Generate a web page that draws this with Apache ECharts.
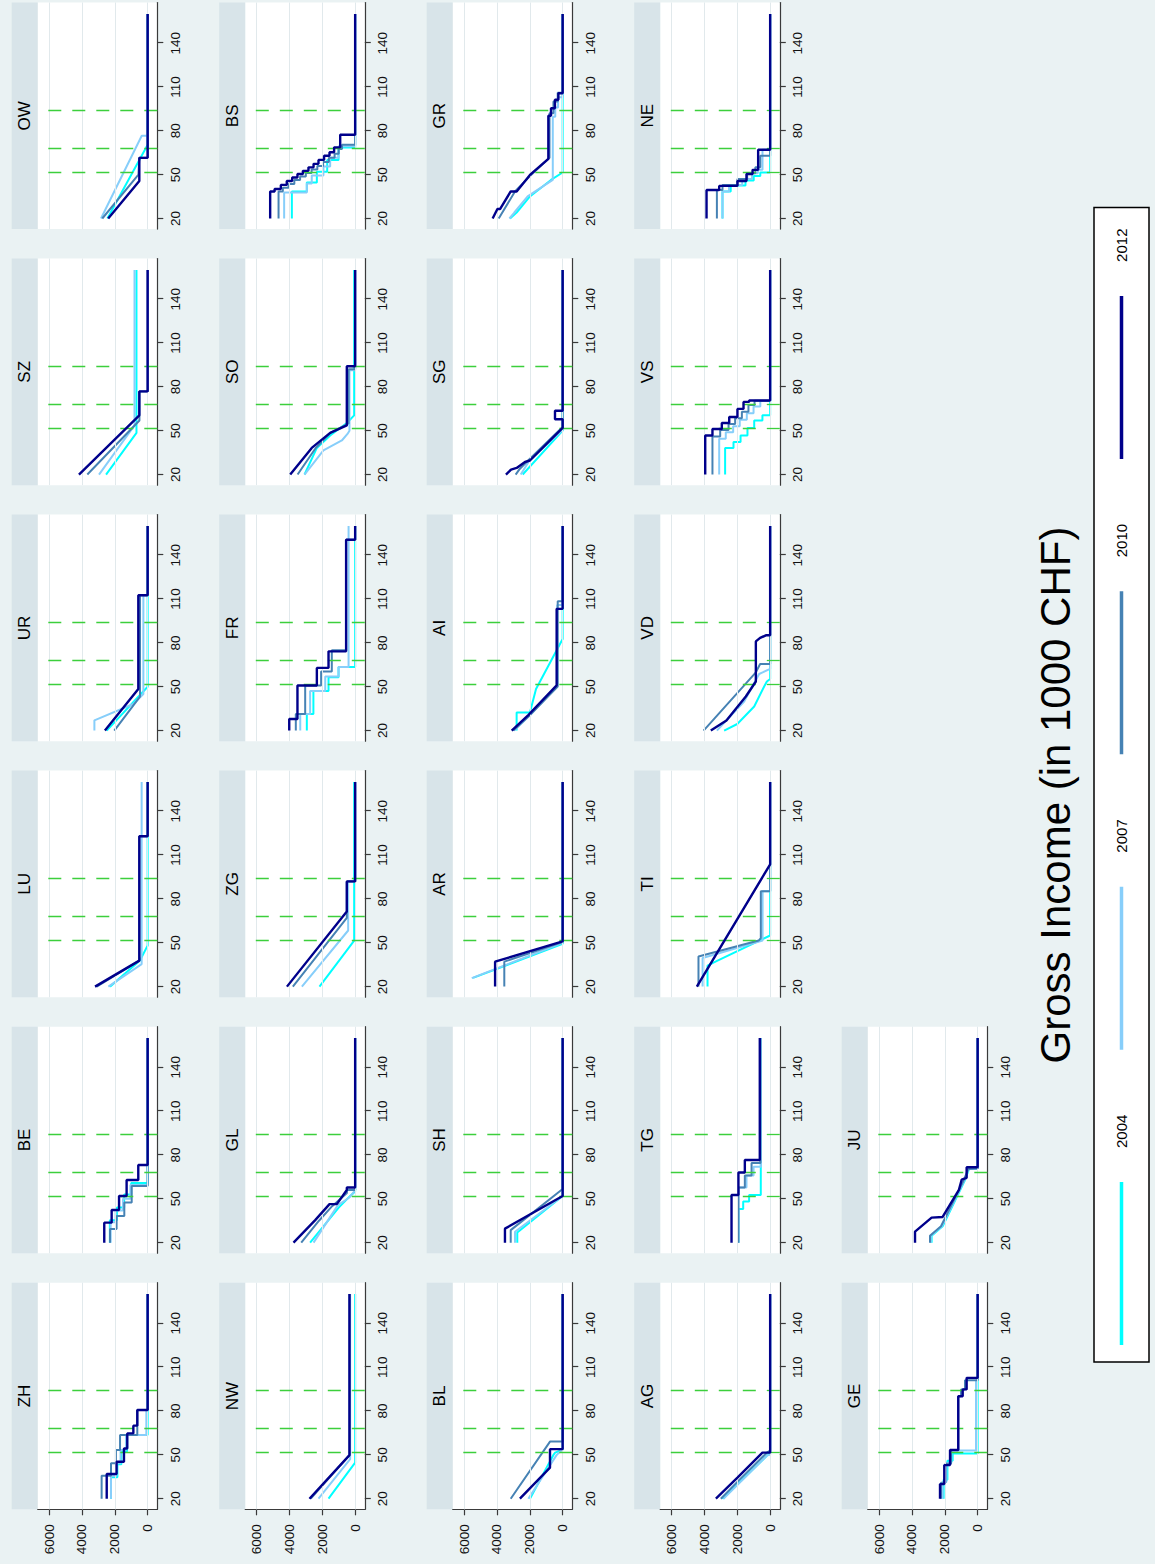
<!DOCTYPE html>
<html>
<head>
<meta charset="utf-8">
<script src="https://cdn.jsdelivr.net/npm/echarts@6/dist/echarts.min.js"></script>
<style>
  html, body { margin: 0; padding: 0; width: 1155px; height: 1564px; overflow: hidden; background: #eaf2f3; }
  /* the graph is laid out landscape and turned a quarter left, like the source */
  #chart { position: absolute; left: 0; top: 0; width: 1564px; height: 1155px;
           transform-origin: 0 0; transform: translateY(1564px) rotate(-90deg); }
</style>
</head>
<body>
<div id="chart"></div>
<script>
const years = ['2004', '2007', '2010', '2012'];
const cantons = ['ZH', 'BE', 'LU', 'UR', 'SZ', 'OW', 'NW', 'GL', 'ZG', 'FR', 'SO', 'BS',
  'BL', 'SH', 'AR', 'AI', 'SG', 'GR', 'AG', 'TG', 'TI', 'VD', 'VS', 'NE', 'GE', 'JU'];
// panels whose four lines are pure staircases (value holds until next income point)
const stepped = ['ZH', 'BE', 'FR', 'BS', 'NE', 'VS', 'TG', 'GE'];
const incomeTicks = [20, 50, 80, 110, 140];
const valueTicks = [0, 2000, 4000, 6000];
const refIncome = [51.5, 67.7, 93.7];

// [income, value] per year: 2004, 2007, 2010, 2012
const ZH = [
  [[20, 2230], [34.6, 1840], [43.5, 1600], [52.5, 1250], [63.6, 0], [160, 0]],
  [[20, 2230], [35.5, 1900], [44.2, 1650], [53.3, 1320], [63.6, 80], [80.7, 0], [160, 0]],
  [[20, 2800], [35.7, 2230], [44.2, 1930], [53.3, 1680], [63.6, 630], [80.7, 0], [160, 0]],
  [[20, 2490], [36.9, 1890], [45.3, 1440], [54.4, 1240], [64.7, 870], [70, 630], [80.7, 0], [160, 0]]
];
const BE = [
  [[20, 2300], [35.4, 1870], [44, 1430], [53, 1000], [60.8, 0], [160, 0]],
  [[20, 2250], [34, 1950], [42, 1500], [50, 1050], [59.5, 0], [160, 0]],
  [[20, 2290], [29.3, 1890], [38.2, 1420], [47.4, 970], [58.7, 0], [160, 0]],
  [[20, 2640], [33.7, 2190], [42.3, 1740], [51.9, 1280], [62.9, 570], [73.1, 0], [160, 0]]
];
const LU = [
  [[20, 2290], [37.8, 470], [48.1, 0], [160, 0]],
  [[20, 2390], [35.4, 365], [160, 365]],
  [[20, 3100], [37.8, 507], [122.9, 507], [122.9, 0], [160, 0]],
  [[20, 3200], [37.8, 507], [122.9, 507], [122.9, 0], [160, 0]]
];
const UR = [
  [[20, 2490], [50, 0], [160, 0]],
  [[20, 3240], [27, 3240], [38.2, 870], [45, 260], [112.6, 260], [112.6, 0], [160, 0]],
  [[20, 2030], [43.3, 466], [112.6, 466], [112.6, 0], [160, 0]],
  [[20, 2600], [48.5, 568], [112.6, 568], [112.6, 0], [160, 0]]
];
const SZ = [
  [[20, 2530], [48.5, 680], [160, 680]],
  [[20, 2960], [53.6, 800], [160, 800]],
  [[20, 3670], [57, 500], [76.9, 500], [76.9, 0], [160, 0]],
  [[20, 4180], [60.5, 507], [76.9, 507], [76.9, 0], [160, 0]]
];
const OW = [
  [[20, 2450], [70.4, 0], [160, 0]],
  [[20, 2840], [76.6, 360], [76.6, 0], [160, 0]],
  [[20, 2760], [50, 560], [61.5, 507], [61.5, 0], [160, 0]],
  [[20, 2400], [45.7, 507], [61.5, 507], [61.5, 0], [160, 0]]
];
const NW = [
  [[20, 1620], [44.7, 0], [160, 0]],
  [[20, 2230], [47, 304], [160, 304]],
  [[20, 2700], [49.8, 345], [160, 345]],
  [[20, 2780], [49.8, 345], [160, 345]]
];
const GL = [
  [[20, 2740], [35.4, 1620], [44, 1000], [52, 300], [55, 0], [160, 0]],
  [[20, 2530], [45.7, 1050], [50.9, 345], [56, 0], [160, 0]],
  [[20, 3280], [35, 2200], [45, 1400], [54, 500], [56, 500], [56, 0], [160, 0]],
  [[20, 3750], [35.4, 2430], [46.4, 1560], [46.4, 1115], [56, 507], [57.7, 507], [57.7, 0], [160, 0]]
];
const ZG = [
  [[20, 2170], [51.5, 60], [160, 60]],
  [[20, 3240], [58.4, 425], [92, 425], [92, 0], [160, 0]],
  [[20, 3790], [67, 507], [92, 507], [92, 0], [160, 0]],
  [[20, 4150], [71.4, 507], [92, 507], [92, 0], [160, 0]]
];
const FR = [
  [[20, 2940], [31.3, 2540], [47, 1620], [56.5, 1010], [63.5, 0], [160, 0]],
  [[20, 3340], [31.3, 2740], [47, 1820], [57, 1010], [63.5, 400], [160, 400]],
  [[20, 3610], [31.3, 3040], [50.9, 2070], [60.5, 1420], [74.9, 550], [150.6, 0], [160, 0]],
  [[20, 4010], [27.9, 3510], [50.9, 2330], [62.9, 1620], [74.2, 550], [150.6, 0], [160, 0]]
];
const SO = [
  [[20, 3080], [38.2, 2330], [46.7, 1520], [55.3, 507], [60.5, 60], [160, 60]],
  [[20, 3080], [36.5, 1930], [43.3, 810], [47.8, 466], [50, 345], [91.3, 345], [91.3, 0], [160, 0]],
  [[20, 3500], [38.2, 2400], [48.5, 1500], [55, 400], [92, 400], [92, 0], [160, 0]],
  [[20, 3950], [38.2, 2640], [48.5, 1520], [53.6, 507], [94.1, 507], [94.1, 0], [160, 0]]
];
const BS = [
  [[20, 3850], [38.5, 2940], [44.7, 2330], [52, 1700], [60, 1010], [68.5, 0], [160, 0]],
  [[20, 4320], [37.8, 2940], [44, 2640], [49.5, 1930], [55.5, 1520], [61.5, 1010], [69.4, 0], [160, 0]],
  [[20, 4660], [38.5, 4400], [41, 4050], [43.6, 3700], [46.4, 3350], [48.8, 3000], [51.2, 2650],
   [53.6, 2300], [56, 1950], [58.7, 1600], [61.5, 1250], [64.3, 1000], [67.5, 800], [70.5, 0], [160, 0]],
  [[20, 5170], [38.5, 4900], [40.2, 4520], [43, 4160], [45.7, 3830], [48.1, 3510], [50.5, 3180],
   [52.6, 2840], [55, 2530], [57.4, 2230], [60.1, 1890], [62.9, 1560], [65.3, 1280], [68.7, 910], [77.3, 0], [160, 0]]
];
const BL = [
  [[20, 1990], [49.8, 570], [51.5, 460], [53.5, 0], [160, 0]],
  [[20, 2090], [49.8, 370], [53.9, 0], [160, 0]],
  [[20, 3160], [59.1, 770], [59.1, 0], [160, 0]],
  [[20, 2600], [41.3, 770], [53.9, 770], [53.9, 0], [160, 0]]
];
const SH = [
  [[20, 2760], [27, 2760], [51.9, 0], [160, 0]],
  [[20, 2900], [27.5, 2900], [51.9, 0], [160, 0]],
  [[20, 3160], [28.6, 3160], [56.7, 0], [160, 0]],
  [[20, 3510], [29.6, 3510], [51.9, 0], [160, 0]]
];
const AR = [
  [[26, 5450], [49.3, 0], [160, 0]],
  [[25.8, 5530], [50, 0], [160, 0]],
  [[20, 3550], [37.1, 3550], [50.5, 0], [160, 0]],
  [[20, 4110], [37.1, 4110], [50.9, 0], [160, 0]]
];
const AI = [
  [[20, 2800], [32.3, 2800], [32.3, 1990], [48.4, 1620], [82.7, 0], [160, 0]],
  [[20, 2950], [31, 1950], [50.5, 330], [106, 330], [106, 0], [160, 0]],
  [[20, 3000], [30, 2050], [50.2, 300], [108.5, 300], [108.5, 0], [160, 0]],
  [[20, 3100], [30.6, 2090], [50.9, 365], [103.3, 365], [103.3, 0], [160, 0]]
];
const SG = [
  [[20, 2430], [50, 0], [160, 0]],
  [[20, 2550], [30, 2000], [50.5, 0], [160, 0]],
  [[20, 2860], [24, 2600], [29.6, 2100], [52.5, 0], [160, 0]],
  [[20, 3450], [23.4, 3140], [24.5, 2800], [28.6, 2290], [29.6, 1990], [51.9, 0], [57.8, 0],
   [57.8, 466], [63.6, 466], [63.6, 0], [160, 0]]
];
const GR = [
  [[20, 3200], [24.1, 2800], [35.1, 1990], [46.4, 710], [51.5, 0], [160, 0]],
  [[20, 3240], [24.1, 2940], [35.1, 2130], [46.4, 600], [89.6, 600], [89.6, 450], [96, 450],
   [96, 280], [103, 280], [103, 0], [160, 0]],
  [[20, 3890], [38.5, 2900], [49, 1990], [61.5, 800], [92, 800], [92, 560], [100, 560],
   [100, 300], [106, 300], [106, 0], [160, 0]],
  [[20, 4260], [26.5, 3970], [26.5, 3810], [38.5, 3160], [38.5, 2800], [49.8, 1990], [60.8, 870],
   [90.3, 870], [90.3, 710], [95.4, 710], [95.4, 470], [101.3, 470], [101.3, 260], [105.7, 260],
   [105.7, 0], [160, 0]]
];
const AG = [
  [[20, 2900], [49.8, 160], [51.5, 0], [160, 0]],
  [[20, 2840], [49.8, 160], [50, 0], [160, 0]],
  [[20, 3000], [32.7, 1890], [51.5, 200], [53, 0], [160, 0]],
  [[20, 3300], [34.4, 1990], [51.5, 470], [51.5, 0], [160, 0]]
];
const TG = [
  [[20, 1930], [43, 1640], [48.1, 1280], [52.6, 570], [160, 570]],
  [[20, 1930], [57.7, 1440], [66, 1010], [72, 560], [160, 560]],
  [[20, 1930], [57.7, 1540], [66, 1130], [74.5, 590], [160, 590]],
  [[20, 2350], [52.6, 1930], [68, 1540], [76.6, 630], [160, 630]]
];
const TI = [
  [[20, 3810], [34.4, 3810], [37.8, 3200], [55, 0], [160, 0]],
  [[20, 4110], [39.6, 4110], [51.5, 460], [85.2, 460], [85.2, 0], [160, 0]],
  [[20, 4360], [40.6, 4360], [51.5, 700], [53.2, 568], [85.2, 568], [85.2, 0], [160, 0]],
  [[20, 4460], [103.7, 0], [160, 0]]
];
const VD = [
  [[20, 2800], [24.5, 2000], [36.5, 970], [50.2, 365], [53.6, 200], [55.3, 0], [160, 0]],
  [[20, 3240], [39.9, 1580], [58.7, 670], [62.2, 0], [160, 0]],
  [[20, 4050], [59.8, 870], [65.6, 610], [65.6, 0], [160, 0]],
  [[20, 3610], [26.9, 2660], [43.3, 1480], [53.6, 870], [81, 870], [83.4, 610], [85.2, 260], [85.2, 0], [160, 0]]
];
const VS = [
  [[20, 2740], [38.2, 2230], [42.3, 1800], [46.7, 1380], [51.9, 970], [57, 470], [60.5, 0], [160, 0]],
  [[20, 3100], [44.5, 2700], [49, 2250], [53, 1850], [57.5, 1420], [62, 1010], [66.5, 600], [70.3, 0], [160, 0]],
  [[20, 3510], [46, 3040], [50.5, 2530], [54.5, 2130], [58.5, 1720], [63, 1320], [67.5, 950], [70.5, 0], [160, 0]],
  [[20, 3950], [46.7, 3510], [51.2, 2940], [55.3, 2490], [59.4, 1990], [64.9, 1620], [69.7, 1280], [70.7, 0], [160, 0]]
];
const NE = [
  [[20, 2900], [38.5, 2400], [42.5, 1500], [46, 1000], [49, 600], [51.5, 0], [160, 0]],
  [[20, 2900], [38.5, 2500], [43, 1700], [47, 1100], [51, 750], [53.3, 466], [67, 0], [160, 0]],
  [[20, 3240], [39.5, 2900], [43, 1990], [47, 1400], [51, 900], [55, 600], [63, 0], [160, 0]],
  [[20, 3870], [39.5, 3100], [42.3, 1990], [45.7, 1440], [50.5, 1070], [53.3, 730], [67, 0], [160, 0]]
];
const GE = [
  [[20, 2070], [33, 1840], [46, 1520], [51, 0], [160, 0]],
  [[20, 2130], [31.5, 1900], [44.5, 1600], [53, 100], [101, 0], [160, 0]],
  [[20, 2230], [31, 1960], [44, 1620], [53.3, 1180], [90.1, 1010], [94.8, 770], [101, 0], [160, 0]],
  [[20, 2290], [30, 2030], [43, 1680], [53.3, 1180], [90.1, 910], [94.8, 670], [102.7, 0], [160, 0]]
];
const JU = [
  [[20, 2800], [24.8, 2800], [31.2, 2130], [62.1, 800], [70.4, 520], [70.8, 0], [160, 0]],
  [[20, 2850], [24.8, 2850], [31.2, 2180], [62.1, 830], [70.4, 540], [70.8, 0], [160, 0]],
  [[20, 2900], [24.8, 2900], [31.2, 2230], [62.1, 870], [70.4, 570], [70.8, 0], [160, 0]],
  [[20, 3810], [27.6, 3810], [37.1, 2800], [37.6, 2130], [56.1, 1140], [63.2, 970], [64.4, 670],
   [71.6, 670], [71.6, 0], [160, 0]]
];

const panelData = { ZH, BE, LU, UR, SZ, OW, NW, GL, ZG, FR, SO, BS, BL, SH, AR, AI, SG, GR, AG, TG, TI, VD, VS, NE, GE, JU };

// look
const FONT = "'Liberation Sans', Arial, Helvetica, sans-serif";
const yearColors = ['#00ffff', '#87cefa', '#4682b4', '#00008b'];
const yearWidths = [2, 2, 2, 2.4];
const STRIP = '#d8e4e9';
const GRIDLINE = '#e1e9ec';
const AXIS = '#3a3a3a';
const GREEN = '#3ccf3c';

// layout of the landscape graph (before turning)
const COL0 = 54.7, COL_STEP = 256.04, PLOT_W = 226.6;
const ROW0 = 37.7, ROW_STEP = 207.5, PLOT_H = 119.6, STRIP_H = 26;

const grids = [], xAxes = [], yAxes = [], series = [], graphics = [];

cantons.forEach((code, i) => {
  const col = i % 6, row = Math.floor(i / 6);
  const left = COL0 + COL_STEP * col;
  const top = ROW0 + ROW_STEP * row;
  const firstCol = col === 0;

  grids.push({ left, top, width: PLOT_W, height: PLOT_H, show: true,
    backgroundColor: '#ffffff', borderWidth: 0, containLabel: false });

  xAxes.push({
    gridIndex: i, type: 'value', min: 12.75, max: 167.8,
    axisLine: { show: true, onZero: false, lineStyle: { color: AXIS, width: 1.2 } },
    axisTick: { show: true, length: 6, customValues: incomeTicks, lineStyle: { color: AXIS, width: 1.2 } },
    axisLabel: { customValues: incomeTicks, fontFamily: FONT, fontSize: 13.5, color: '#111', margin: 11,
      formatter: v => String(v) },
    splitLine: { show: false }
  });

  yAxes.push({
    gridIndex: i, type: 'value', min: -587, max: 6689,
    axisLine: { show: firstCol, onZero: false, lineStyle: { color: AXIS, width: 1.2 } },
    axisTick: { show: firstCol, length: 6, customValues: valueTicks, lineStyle: { color: AXIS, width: 1.2 } },
    axisLabel: { show: firstCol, customValues: valueTicks, fontFamily: FONT, fontSize: 13.5, color: '#111', margin: 15,
      formatter: v => String(v) },
    splitLine: { show: false }
  });

  // gridlines and the three dashed income markers
  series.push({
    type: 'line', xAxisIndex: i, yAxisIndex: i, silent: true, z: 1,
    data: [[20, 0]], showSymbol: false, lineStyle: { opacity: 0 },
    markLine: {
      silent: true, symbol: 'none', label: { show: false }, animation: false,
      data: valueTicks.map(v => ({ yAxis: v, lineStyle: { color: GRIDLINE, width: 1, type: 'solid' } }))
        .concat(refIncome.map(x => ({ xAxis: x, lineStyle: { color: GREEN, width: 1.3, type: [13, 11] } })))
    }
  });

  panelData[code].forEach((pts, k) => {
    series.push({
      name: years[k], type: 'line', xAxisIndex: i, yAxisIndex: i, z: 2 + k,
      data: pts, showSymbol: false, symbol: 'none',
      step: stepped.includes(code) ? 'end' : false,
      lineStyle: { color: yearColors[k], width: yearWidths[k] },
      itemStyle: { color: yearColors[k] }
    });
  });

  graphics.push({ type: 'rect', silent: true,
    shape: { x: left, y: top - STRIP_H, width: PLOT_W, height: STRIP_H },
    style: { fill: STRIP } });
  graphics.push({ type: 'text', silent: true, x: left + PLOT_W / 2, y: top - STRIP_H / 2,
    style: { text: code, font: '17px ' + FONT, fill: '#000',
      align: 'center', verticalAlign: 'middle', textAlign: 'center', textVerticalAlign: 'middle' } });
});

graphics.push({ type: 'text', silent: true, x: 769, y: 1055,
  style: { text: 'Gross Income (in 1000 CHF)', font: '42px ' + FONT, fill: '#000',
    align: 'center', verticalAlign: 'middle', textAlign: 'center', textVerticalAlign: 'middle' } });

const chart = echarts.init(document.getElementById('chart'), null, { renderer: 'svg', width: 1564, height: 1155 });
chart.setOption({
  animation: false,
  backgroundColor: '#eaf2f3',
  grid: grids,
  xAxis: xAxes,
  yAxis: yAxes,
  legend: {
    data: years, left: 202, top: 1094, icon: 'rect', itemWidth: 163, itemHeight: 3.5, itemGap: 65,
    padding: [20, 21, 20, 17], backgroundColor: '#ffffff', borderColor: '#000', borderWidth: 1.5,
    textStyle: { fontFamily: FONT, fontSize: 15, color: '#000', padding: [0, 0, 0, 29] }, selectedMode: false
  },
  graphic: graphics,
  series
});
</script>
</body>
</html>
